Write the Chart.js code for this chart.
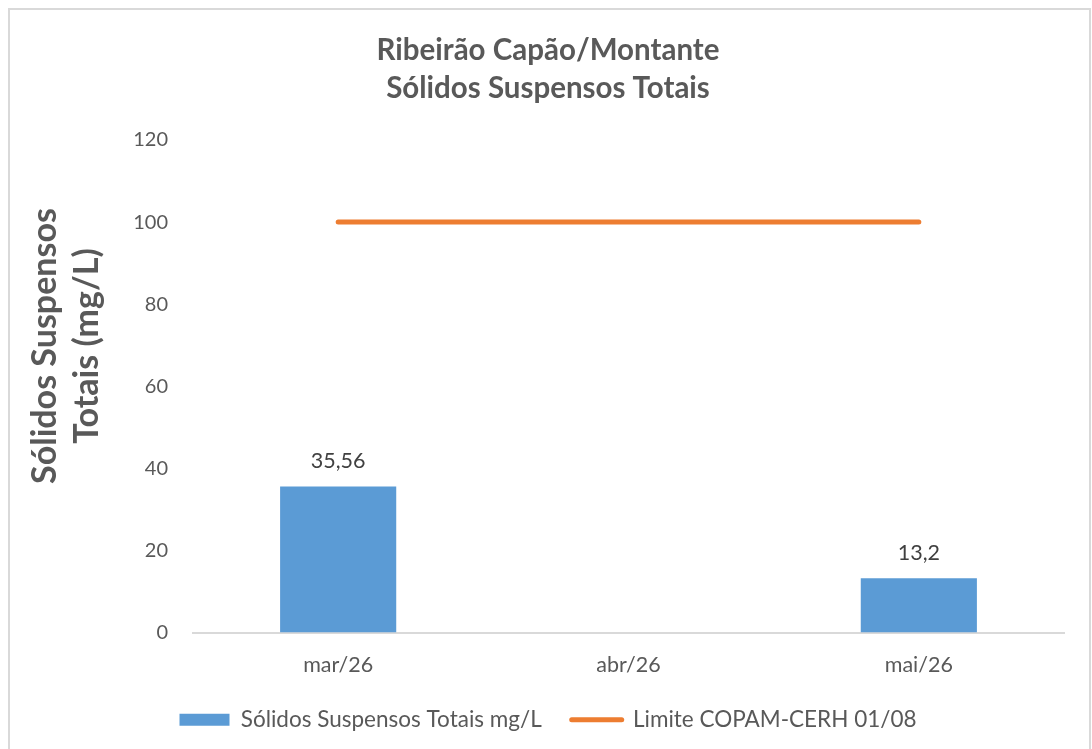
<!DOCTYPE html>
<html lang="pt-BR">
<head>
<meta charset="utf-8">
<title>Ribeirão Capão/Montante - Sólidos Suspensos Totais</title>
<script src="https://cdn.jsdelivr.net/npm/chart.js@4.4.1/dist/chart.umd.min.js"></script>
<style>
    html, body { margin: 0; padding: 0; background: #ffffff; overflow: hidden; }
    #wrap { position: relative; width: 1092px; height: 749px; }
    #chart { position: absolute; left: 0; top: 0; }
    .frame {
        position: absolute; left: 8px; top: 8px; width: 1083px; height: 780px;
        border: 2px solid #d9d9d9; box-sizing: border-box; pointer-events: none;
    }
</style>
</head>
<body>
<div id="wrap">
    <canvas id="chart" width="1092" height="749"></canvas>
    <div class="frame"></div>
</div>
<script>
const months = ['mar/26', 'abr/26', 'mai/26'];
const sstValues = [35.56, null, 13.2];
const limitValues = [100, 100, 100];
const yTicks = [0, 20, 40, 60, 80, 100, 120];

const titleLines = ['Ribeirão Capão/Montante', 'Sólidos Suspensos Totais'];
const yTitleLines = ['Sólidos Suspensos', 'Totais (mg/L)'];
const sstLabel = 'Sólidos Suspensos Totais mg/L';
const limitLabel = 'Limite COPAM-CERH 01/08';

const textColor = '#595959';
const labelColor = '#404040';
const barColor = '#5b9bd5';
const lineColor = '#ed7d31';
const fontFamily = 'Lato, "Noto Sans", sans-serif';

// values printed above each bar, with a decimal comma
const barValueLabels = {
    id: 'barValueLabels',
    afterDatasetsDraw(chart) {
        const ctx = chart.ctx;
        const meta = chart.getDatasetMeta(0);
        ctx.save();
        ctx.font = '21.5px ' + fontFamily;
        ctx.fillStyle = labelColor;
        ctx.textAlign = 'center';
        ctx.textBaseline = 'middle';
        meta.data.forEach(function(bar, i) {
            const v = sstValues[i];
            if (v === null || v === undefined) return;
            ctx.fillText(String(v).replace('.', ','), bar.x, bar.y - 25);
        });
        ctx.restore();
    }
};

// rotated two-line axis title, placed a bit above the middle of the y axis
const yAxisTitle = {
    id: 'yAxisTitle',
    afterDraw(chart) {
        const ctx = chart.ctx;
        ctx.save();
        ctx.translate(0, 346);
        ctx.rotate(-Math.PI / 2);
        ctx.font = 'bold 34px ' + fontFamily;
        ctx.fillStyle = textColor;
        ctx.textAlign = 'center';
        ctx.textBaseline = 'middle';
        yTitleLines.forEach(function(line, i) {
            ctx.fillText(line, 0, 45 + i * 42);
        });
        ctx.restore();
    }
};

new Chart(document.getElementById('chart'), {
    type: 'bar',
    data: {
        labels: months,
        datasets: [
            {
                type: 'bar',
                label: sstLabel,
                data: sstValues,
                backgroundColor: barColor,
                borderWidth: 0,
                categoryPercentage: 1.0,
                barPercentage: 0.4,
                order: 2
            },
            {
                type: 'line',
                label: limitLabel,
                data: limitValues,
                borderColor: lineColor,
                backgroundColor: lineColor,
                borderWidth: 5,
                borderCapStyle: 'round',
                pointRadius: 0,
                fill: false,
                order: 1
            }
        ]
    },
    options: {
        responsive: false,
        animation: false,
        layout: {
            padding: { left: 32, right: 28, top: 0, bottom: 8 }
        },
        plugins: {
            title: {
                display: true,
                text: titleLines,
                color: textColor,
                font: { family: fontFamily, size: 29.5, weight: 'bold', lineHeight: 1.288 },
                padding: { top: 31, bottom: 33 }
            },
            legend: {
                position: 'bottom',
                labels: {
                    color: textColor,
                    font: { family: fontFamily, size: 22.5 },
                    usePointStyle: true,
                    pointStyleWidth: 50,
                    boxHeight: 12,
                    padding: 30,
                    generateLabels: function() {
                        return [
                            {
                                text: sstLabel, fillStyle: barColor, strokeStyle: barColor,
                                lineWidth: 0, pointStyle: 'rect', datasetIndex: 0, fontColor: textColor
                            },
                            {
                                text: limitLabel, fillStyle: lineColor, strokeStyle: lineColor,
                                lineWidth: 5, lineCap: 'round', pointStyle: 'line', datasetIndex: 1, fontColor: textColor
                            }
                        ];
                    }
                }
            },
            tooltip: { enabled: false }
        },
        scales: {
            x: {
                grid: { display: false, drawTicks: false },
                border: { display: true, color: '#d9d9d9', width: 2 },
                ticks: {
                    color: textColor,
                    font: { family: fontFamily, size: 21.5 },
                    padding: 20
                },
                afterFit: function(scale) { scale.height = 46; }
            },
            y: {
                min: 0,
                max: 120,
                afterBuildTicks: function(scale) {
                    scale.ticks = yTicks.map(function(v) { return { value: v }; });
                },
                grid: { display: false, drawTicks: false },
                border: { display: false },
                ticks: {
                    color: textColor,
                    font: { family: fontFamily, size: 20 },
                    padding: 25
                },
                afterFit: function(scale) { scale.width = 161; }
            }
        }
    },
    plugins: [barValueLabels, yAxisTitle]
});
</script>
</body>
</html>
